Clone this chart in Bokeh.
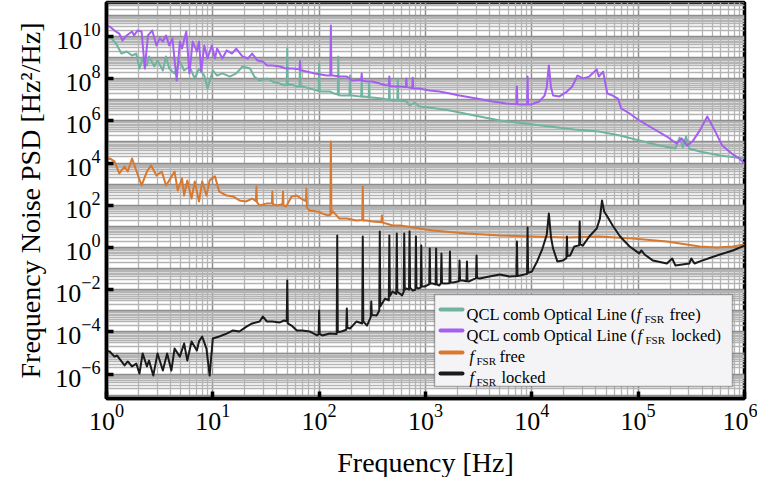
import numpy as np
from bokeh.plotting import figure
from bokeh.models import FixedTicker, BoxAnnotation, Label
from bokeh.embed import file_html
from bokeh.resources import INLINE

# ---------------- data (log10 of frequency in Hz, log10 of PSD in Hz^2/Hz) ----------------
qcl_free_logf = [0.03, 0.09, 0.14, 0.19, 0.24, 0.28, 0.31, 0.34, 0.38, 0.40, 0.45, 0.48, 0.53, 0.56,
                 0.59, 0.64, 0.69, 0.73, 0.78, 0.83, 0.87, 0.92, 0.95, 1.00, 1.04, 1.09, 1.16, 1.22,
                 1.28, 1.35, 1.39, 1.44, 1.51, 1.56, 1.63, 1.67, 1.695, 1.70, 1.705, 1.74, 1.79, 1.815,
                 1.82, 1.825, 1.84, 1.91, 1.98, 1.995, 2.00, 2.005, 2.03, 2.10, 2.14, 2.175, 2.18, 2.185,
                 2.22, 2.285, 2.29, 2.295, 2.31, 2.395, 2.40, 2.405, 2.43, 2.465, 2.47, 2.475, 2.50, 2.59,
                 2.655, 2.66, 2.665, 2.69, 2.735, 2.74, 2.745, 2.76, 2.82, 2.85, 2.90, 2.94, 3.04, 3.23,
                 3.46, 3.70, 3.93, 4.17, 4.40, 4.63, 4.83, 5.01, 5.20, 5.35, 5.39, 5.42, 5.45, 5.48,
                 5.58, 5.77, 6.00]
qcl_free_logpsd = [10.0, 9.67, 9.19, 9.29, 9.10, 9.19, 8.48, 8.96, 8.63, 9.05, 8.58, 8.86, 8.39, 9.05,
                   8.48, 8.25, 8.82, 8.39, 8.58, 8.01, 8.48, 8.15, 7.54, 8.39, 8.15, 8.25, 8.10, 8.25,
                   8.58, 8.48, 8.10, 7.91, 8.01, 7.87, 7.77, 7.68, 7.70, 9.43, 7.70, 7.72, 7.63, 7.63,
                   8.86, 7.63, 7.63, 7.54, 7.44, 7.42, 8.72, 7.40, 7.39, 7.39, 7.30, 7.25, 9.05, 7.22,
                   7.20, 7.20, 8.15, 7.20, 7.20, 7.15, 7.91, 7.15, 7.16, 7.12, 7.77, 7.12, 7.11, 7.06,
                   7.00, 7.68, 7.00, 6.97, 6.97, 8.01, 6.97, 6.97, 6.92, 6.73, 6.87, 6.68, 6.64, 6.49,
                   6.26, 6.02, 5.88, 5.73, 5.59, 5.50, 5.31, 5.07, 4.83, 4.69, 5.21, 4.74, 5.26, 4.69,
                   4.55, 4.36, 4.22]

qcl_locked_logf = [0.0, 0.03, 0.075, 0.12, 0.15, 0.19, 0.24, 0.26, 0.29, 0.33, 0.36, 0.39, 0.43, 0.47,
                   0.50, 0.53, 0.56, 0.59, 0.62, 0.66, 0.69, 0.71, 0.75, 0.78, 0.81, 0.85, 0.87, 0.89,
                   0.92, 0.95, 0.99, 1.02, 1.04, 1.09, 1.13, 1.18, 1.22, 1.28, 1.33, 1.37, 1.42, 1.47,
                   1.51, 1.56, 1.63, 1.69, 1.75, 1.815, 1.82, 1.825, 1.88, 1.96, 2.07, 2.105, 2.11, 2.115,
                   2.13, 2.19, 2.26, 2.31, 2.395, 2.40, 2.405, 2.45, 2.50, 2.57, 2.63, 2.655, 2.66, 2.665,
                   2.71, 2.76, 2.815, 2.82, 2.825, 2.85, 2.875, 2.88, 2.885, 2.94, 3.04, 3.13, 3.23, 3.32,
                   3.48, 3.63, 3.76, 3.855, 3.86, 3.865, 3.89, 3.955, 3.96, 3.965, 3.99, 4.07, 4.12, 4.14,
                   4.16, 4.18, 4.20, 4.26, 4.33, 4.38, 4.43, 4.48, 4.54, 4.61, 4.63, 4.67, 4.71, 4.76,
                   4.81, 4.84, 4.92, 5.01, 5.14, 5.27, 5.36, 5.41, 5.46, 5.51, 5.58, 5.65, 5.72, 5.79,
                   5.88, 5.95, 6.00]
qcl_locked_logpsd = [10.5, 10.47, 10.28, 10.14, 9.81, 10.05, 10.24, 10.05, 10.28, 10.24, 8.48, 10.05,
                     10.28, 9.57, 9.91, 9.76, 10.05, 9.57, 9.91, 7.91, 9.76, 9.43, 10.24, 8.25, 9.76,
                     9.29, 9.76, 8.34, 9.57, 8.96, 9.57, 8.96, 9.43, 8.96, 9.34, 9.19, 9.43, 9.05, 8.96,
                     9.19, 8.86, 8.82, 8.63, 8.63, 8.58, 8.48, 8.48, 8.45, 8.82, 8.40, 8.34, 8.25, 8.15,
                     8.15, 10.52, 8.15, 8.15, 8.10, 8.10, 7.91, 7.95, 8.25, 7.90, 7.87, 7.87, 7.77, 7.68,
                     7.70, 8.10, 7.65, 7.63, 7.63, 7.60, 8.01, 7.60, 7.58, 7.56, 8.05, 7.55, 7.54, 7.44,
                     7.39, 7.30, 7.20, 7.06, 6.92, 6.82, 6.80, 7.63, 6.79, 6.78, 6.78, 8.10, 6.78, 6.78,
                     6.92, 7.20, 7.60, 8.63, 7.60, 7.20, 7.16, 7.39, 7.63, 8.15, 8.01, 8.10, 8.44, 8.10,
                     8.34, 7.30, 7.20, 7.06, 6.59, 6.35, 6.02, 5.64, 5.26, 4.93, 5.17, 4.83, 5.02, 5.55,
                     6.21, 5.55, 4.83, 4.45, 4.22, 3.98]

fsr_free_logf = [0.0, 0.03, 0.075, 0.12, 0.17, 0.20, 0.24, 0.28, 0.33, 0.38, 0.42, 0.47, 0.52, 0.56,
                 0.59, 0.64, 0.67, 0.71, 0.73, 0.76, 0.80, 0.83, 0.87, 0.90, 0.94, 0.97, 1.02, 1.06,
                 1.13, 1.19, 1.25, 1.31, 1.37, 1.405, 1.41, 1.415, 1.44, 1.51, 1.555, 1.56, 1.565, 1.60,
                 1.655, 1.66, 1.665, 1.69, 1.74, 1.79, 1.83, 1.875, 1.88, 1.885, 1.91, 1.98, 2.03, 2.08,
                 2.105, 2.11, 2.115, 2.13, 2.19, 2.26, 2.35, 2.405, 2.41, 2.415, 2.45, 2.50, 2.585, 2.59,
                 2.595, 2.63, 2.69, 2.76, 3.07, 3.39, 3.70, 4.01, 4.33, 4.63, 4.95, 5.27, 5.58, 5.74,
                 5.89, 6.00]
fsr_free_logpsd = [4.15, 4.22, 4.08, 3.51, 3.84, 3.60, 4.22, 3.65, 2.94, 3.60, 3.89, 3.41, 3.60, 2.94,
                   3.18, 3.60, 2.70, 3.27, 2.46, 3.18, 2.32, 3.13, 2.18, 3.13, 2.46, 3.18, 3.37, 2.65,
                   2.46, 2.42, 2.23, 2.18, 2.32, 2.20, 2.89, 2.15, 1.99, 2.09, 2.10, 2.65, 2.05, 1.99,
                   2.05, 2.65, 2.00, 1.94, 2.42, 2.46, 2.32, 2.20, 2.80, 1.90, 1.75, 1.71, 1.61, 1.52,
                   1.55, 5.02, 1.60, 1.71, 1.37, 1.37, 1.28, 1.30, 2.89, 1.28, 1.28, 1.23, 1.20, 1.52,
                   1.18, 1.14, 1.04, 1.04, 0.81, 0.66, 0.57, 0.52, 0.47, 0.52, 0.43, 0.28, 0.05, 0.00,
                   0.05, 0.14]

fsr_locked_logf = [0.0, 0.03, 0.075, 0.10, 0.17, 0.20, 0.24, 0.28, 0.31, 0.34, 0.38, 0.40, 0.44, 0.48,
                   0.53, 0.57, 0.61, 0.64, 0.69, 0.73, 0.76, 0.80, 0.85, 0.87, 0.90, 0.94, 0.97, 1.00,
                   1.06, 1.13, 1.19, 1.25, 1.32, 1.37, 1.44, 1.47, 1.51, 1.56, 1.63, 1.67, 1.695, 1.70,
                   1.705, 1.74, 1.79, 1.84, 1.91, 1.98, 1.995, 2.00, 2.005, 2.03, 2.10, 2.165, 2.17, 2.175,
                   2.21, 2.255, 2.26, 2.265, 2.29, 2.35, 2.405, 2.41, 2.415, 2.45, 2.485, 2.49, 2.495, 2.54,
                   2.565, 2.57, 2.575, 2.62, 2.655, 2.66, 2.665, 2.69, 2.725, 2.73, 2.735, 2.78, 2.795, 2.80,
                   2.805, 2.82, 2.845, 2.85, 2.855, 2.88, 2.905, 2.91, 2.915, 2.93, 2.955, 2.96, 2.965, 2.99,
                   3.035, 3.04, 3.045, 3.07, 3.095, 3.10, 3.105, 3.13, 3.145, 3.15, 3.155, 3.18, 3.225, 3.23,
                   3.235, 3.26, 3.315, 3.32, 3.325, 3.35, 3.385, 3.39, 3.395, 3.41, 3.475, 3.48, 3.485, 3.51,
                   3.60, 3.70, 3.79, 3.855, 3.86, 3.865, 3.89, 3.955, 3.96, 3.965, 4.00, 4.05, 4.10, 4.14,
                   4.16, 4.18, 4.20, 4.24, 4.29, 4.325, 4.33, 4.335, 4.36, 4.40, 4.445, 4.45, 4.455, 4.48,
                   4.54, 4.61, 4.64, 4.66, 4.68, 4.71, 4.76, 4.83, 4.92, 5.01, 5.03, 5.06, 5.14, 5.27,
                   5.32, 5.35, 5.48, 5.50, 5.53, 5.58, 5.74, 5.89, 6.00]
fsr_locked_logpsd = [-4.90, -4.93, -5.17, -5.12, -5.59, -5.40, -5.64, -5.50, -5.97, -5.02, -5.64, -5.36,
                     -6.07, -5.02, -5.83, -5.02, -5.83, -4.79, -5.17, -4.55, -5.36, -4.45, -4.88, -4.45,
                     -4.22, -4.79, -6.07, -4.31, -4.22, -4.08, -3.93, -3.98, -3.74, -3.60, -3.51, -3.27,
                     -3.51, -3.51, -3.55, -3.46, -3.50, -1.56, -3.60, -3.70, -3.93, -3.93, -3.98, -4.17,
                     -4.10, -2.99, -4.10, -4.17, -4.08, -4.10, 0.57, -4.00, -3.98, -3.90, -2.89, -3.80,
                     -3.84, -3.51, -3.60, 0.52, -3.50, -3.70, -3.30, -2.56, -3.20, -3.22, -3.00, 0.76,
                     -2.80, -2.42, -2.50, 0.57, -2.30, -2.09, -2.20, 0.66, -2.10, -2.27, -2.10, 0.66,
                     -2.00, -1.94, -2.00, 0.76, -1.90, -2.04, -2.00, 0.52, -1.90, -1.94, -1.90, 0.09,
                     -1.85, -1.85, -1.75, -0.05, -1.70, -1.71, -1.75, -0.05, -1.75, -1.80, -1.70, -0.28,
                     -1.70, -1.71, -1.70, -0.19, -1.65, -1.66, -1.60, -0.62, -1.56, -1.56, -1.60, -0.66,
                     -1.60, -1.61, -1.45, -0.38, -1.45, -1.47, -1.37, -1.28, -1.37, -1.35, 0.28, -1.35,
                     -1.33, -1.25, 0.95, -1.20, -1.14, -0.66, -0.05, 0.60, 1.61, 0.50, -0.05, -0.66,
                     -0.62, -0.50, 0.52, -0.40, -0.38, 0.05, 0.10, 1.23, 0.15, 0.09, 0.52, 0.90,
                     1.37, 2.23, 1.71, 1.47, 1.04, 0.52, 0.05, -0.28, -0.14, -0.33, -0.62, -0.76,
                     -0.52, -0.85, -0.76, -0.52, -0.76, -0.66, -0.38, -0.14, 0.09]

x_tick_exponents = [0, 1, 2, 3, 4, 5, 6]
y_tick_exponents = [-6, -4, -2, 0, 2, 4, 6, 8, 10]

series_colors = ["#6fb3a0", "#a55ff0", "#d9782f", "#1a1a1a"]

# ---------------- figure ----------------
X_LO, X_HI = 0.0, 6.0
Y_LO, Y_HI = -7.156, 11.611
FW, FH = 638, 396

p = figure(frame_width=FW, frame_height=FH, x_axis_type="log", y_axis_type="log",
           x_range=(10 ** X_LO, 10 ** X_HI), y_range=(10 ** Y_LO, 10 ** Y_HI),
           output_backend="svg", toolbar_location=None,
           min_border_left=106, min_border_right=13, min_border_top=2, min_border_bottom=70)
p.background_fill_color = "white"
p.border_fill_color = "white"
p.outline_line_color = "black"
p.outline_line_width = 3.5

xdec = [10.0 ** k for k in range(0, 7)]
xmin = [m * 10.0 ** k for k in range(0, 6) for m in range(2, 10)]
ydec = [10.0 ** k for k in range(-8, 13)]
ymin = [m * 10.0 ** k for k in range(-8, 12) for m in range(2, 10)]

p.xaxis.ticker = FixedTicker(ticks=[10.0 ** e for e in x_tick_exponents], minor_ticks=[])
p.yaxis.ticker = FixedTicker(ticks=[10.0 ** e for e in y_tick_exponents], minor_ticks=[])
p.xgrid.ticker = FixedTicker(ticks=xdec, minor_ticks=xmin)
p.ygrid.ticker = FixedTicker(ticks=ydec, minor_ticks=ymin)

for g in (p.xgrid[0], p.ygrid[0]):
    g.grid_line_color = "#8e8e8e"
    g.grid_line_width = 1.5
    g.minor_grid_line_color = "#b4b4b4"
    g.minor_grid_line_width = 1.3

for ax in (p.xaxis[0], p.yaxis[0]):
    ax.axis_line_color = "black"
    ax.axis_line_width = 3.5
    ax.major_tick_in = 7
    ax.major_tick_out = 0
    ax.major_tick_line_width = 3.5
    ax.major_tick_line_color = "black"
    ax.minor_tick_line_color = None
    ax.major_label_text_font = "Liberation Serif"
    ax.major_label_text_font_size = "26px"
    ax.major_label_text_color = "black"
    ax.axis_label_text_font = "Liberation Serif"
    ax.axis_label_text_font_size = "28px"
    ax.axis_label_text_font_style = "normal"
    ax.axis_label_text_color = "black"

p.xaxis.axis_label = "Frequency [Hz]"
p.yaxis.axis_label = "Frequency Noise PSD [Hz²/Hz]"
p.xaxis.major_label_standoff = 6
p.yaxis.major_label_standoff = 6
p.xaxis.axis_label_standoff = 14
p.yaxis.axis_label_standoff = 6

series = [(qcl_free_logf, qcl_free_logpsd), (qcl_locked_logf, qcl_locked_logpsd),
          (fsr_free_logf, fsr_free_logpsd), (fsr_locked_logf, fsr_locked_logpsd)]
for (lf, lp), c in zip(series, series_colors):
    p.line(10 ** np.array(lf), 10 ** np.array(lp), line_color=c, line_width=2.0, line_join="round")

# ---------------- legend (drawn by hand for the subscripts) ----------------
def fx(px):
    return 10 ** (X_LO + px / FW * (X_HI - X_LO))


def fy(py):
    return 10 ** (Y_HI - py / FH * (Y_HI - Y_LO))


p.add_layout(BoxAnnotation(left=fx(328), right=fx(626), top=fy(292), bottom=fy(384),
                           fill_color="#f4f4f6", fill_alpha=1.0, line_color="black", line_width=1.5))

row_line_y = [307, 328, 350, 371]
r = p.segment(x0=[fx(334)] * 4, x1=[fx(356)] * 4, y0=[fy(v) for v in row_line_y],
              y1=[fy(v) for v in row_line_y], line_color=series_colors, line_width=4, line_cap="round")
r.level = "overlay"

FONT = "Liberation Serif"
rows = [
    (312, [("QCL comb Optical Line (", 360, "normal", "16.5px", 0), ("f", 530, "italic", "16.5px", 0),
           ("FSR", 538, "normal", "11px", 4), ("free)", 563, "normal", "16.5px", 0)]),
    (333, [("QCL comb Optical Line (", 360, "normal", "16.5px", 0), ("f", 531, "italic", "16.5px", 0),
           ("FSR", 539, "normal", "11px", 4), ("locked)", 565, "normal", "16.5px", 0)]),
    (354, [("f", 363, "italic", "16.5px", 0), ("FSR", 370, "normal", "11px", 4),
           ("free", 393, "normal", "16.5px", 0)]),
    (375, [("f", 363, "italic", "16.5px", 0), ("FSR", 370, "normal", "11px", 4),
           ("locked", 395, "normal", "16.5px", 0)]),
]
for base_y, parts in rows:
    for txt, px, style, size, dy in parts:
        lab = Label(x=fx(px), y=fy(base_y + dy), text=txt, text_font=FONT, text_font_size=size,
                    text_font_style=style, text_baseline="alphabetic", text_align="left",
                    text_color="black")
        lab.level = "overlay"
        p.add_layout(lab)

open("out.html", "w").write(file_html(p, INLINE))
